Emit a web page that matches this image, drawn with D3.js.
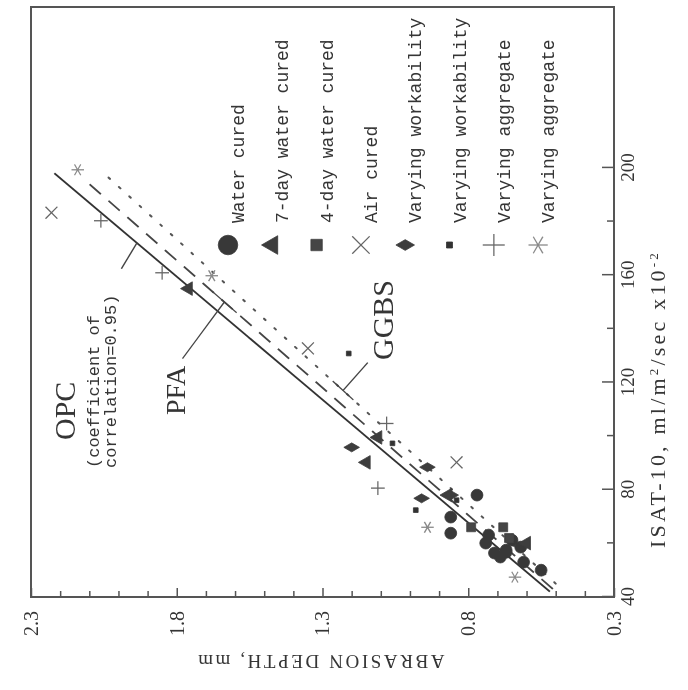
<!DOCTYPE html>
<html>
<head>
<meta charset="utf-8">
<script src="https://cdn.jsdelivr.net/npm/d3@7"></script>
<style>
  body { margin: 0; background: #fff; }
  svg { display: block; }
</style>
</head>
<body>
<script>
// abrasion depth vs ISAT-10, scanned figure is turned 90 deg, so the whole plot group is rotated

const isatTicks = [40, 80, 120, 160, 200];
const depthTicks = [0.3, 0.8, 1.3, 1.8, 2.3];

// [ISAT-10, abrasion depth]
const waterCured = [[78.0, 0.77], [63.8, 0.86], [69.8, 0.86], [50.0, 0.55], [56.4, 0.71],
  [56.7, 0.67], [53.0, 0.61], [61.2, 0.65], [63.1, 0.73], [54.9, 0.69], [60.1, 0.74],
  [57.5, 0.67], [58.6, 0.62]];
const sevenDay = [[99.5, 1.11], [90.2, 1.15], [155.0, 1.76], [60.1, 0.60], [78.0, 0.87]];
const fourDay = [[66.0, 0.79], [66.0, 0.68], [62.0, 0.66]];
const airCured = [[183.3, 2.23], [132.7, 1.35], [90.2, 0.84]];
const workabilityDiamond = [[95.8, 1.20], [88.4, 0.94], [76.8, 0.96], [78.0, 0.86]];
const workabilitySquare = [[130.8, 1.21], [72.4, 0.98], [76.1, 0.84], [97.3, 1.06]];
const aggregatePlus = [[80.6, 1.11], [104.7, 1.08], [180.3, 2.06], [160.9, 1.85]];
const aggregateStar = [[66.0, 0.94], [47.4, 0.64], [199.3, 2.14], [159.8, 1.68]];

// regression lines
const opcLine = [[42, 0.52], [198, 2.22]];
const pfaLine = [[43, 0.51], [194, 2.10]];
const ggbsLine = [[45, 0.50], [197, 2.04]];

const legendNames = ["Water cured", "7-day water cured", "4-day water cured", "Air cured",
  "Varying workability", "Varying workability", "Varying aggregate", "Varying aggregate"];

const width = 688;
const height = 690;
const W = 590;   // ISAT axis length
const H = 583;   // depth axis length
const ink = '#353535';
const serif = '"Liberation Serif", "Times New Roman", serif';
const mono = '"Liberation Mono", "Courier New", monospace';

const svg = d3.select('body').append('svg')
  .attr('width', width)
  .attr('height', height);

svg.append('defs').append('filter')
    .attr('id', 'scan')
  .append('feGaussianBlur')
    .attr('stdDeviation', 0.45);

const g = svg.append('g')
  .attr('transform', 'translate(31,597) rotate(-90)')
  .attr('filter', 'url(#scan)');

const x = d3.scaleLinear().domain([40, 260]).range([0, W]);
const y = d3.scaleLinear().domain([0.3, 2.3]).range([H, 0]);

// frame
g.append('rect')
  .attr('width', W)
  .attr('height', H)
  .attr('fill', 'none')
  .attr('stroke', '#555')
  .attr('stroke-width', 2);

// ISAT axis
const xAxis = d3.axisBottom(x)
  .tickValues(d3.range(40, 201, 20))
  .tickSizeInner(-12)
  .tickSizeOuter(0)
  .tickPadding(7)
  .tickFormat((d) => isatTicks.includes(d) ? d : '');
const gxAxis = g.append('g').attr('transform', `translate(0,${H})`).call(xAxis);
gxAxis.select('.domain').remove();
gxAxis.selectAll('.tick line')
  .attr('y2', (d) => isatTicks.includes(d) ? -12 : -7)
  .attr('stroke', '#555')
  .attr('stroke-width', 1.5);
gxAxis.selectAll('.tick text')
  .attr('font-family', serif)
  .attr('font-size', 19)
  .attr('fill', ink);

// depth axis
const isMajor = (d) => depthTicks.some((t) => Math.abs(t - d) < 1e-6);
const yAxis = d3.axisLeft(y)
  .tickValues(d3.range(3, 24).map((d) => d / 10))
  .tickSizeInner(-6)
  .tickSizeOuter(0)
  .tickPadding(14)
  .tickFormat((d) => isMajor(d) ? d3.format('.1f')(d) : '');
const gyAxis = g.append('g').call(yAxis);
gyAxis.select('.domain').remove();
gyAxis.selectAll('.tick line')
  .attr('x2', (d) => isMajor(d) ? 9 : 6)
  .attr('stroke', '#555')
  .attr('stroke-width', 1.5);
gyAxis.selectAll('.tick text')
  .attr('font-family', serif)
  .attr('font-size', 20)
  .attr('fill', ink);

// axis titles
const isatTitle = g.append('text')
  .attr('x', 198)
  .attr('y', H + 51)
  .attr('text-anchor', 'middle')
  .attr('font-family', serif)
  .attr('font-size', 22)
  .attr('letter-spacing', 3.2)
  .attr('fill', ink);
isatTitle.append('tspan').text('ISAT-10,  ml/m');
isatTitle.append('tspan').attr('font-size', 13).attr('baseline-shift', 'super').text('2');
isatTitle.append('tspan').text('/sec x10');
isatTitle.append('tspan').attr('font-size', 13).attr('baseline-shift', 'super').text('-2');

g.append('text')
  .attr('transform', `translate(-58,289) rotate(-90)`)
  .attr('text-anchor', 'middle')
  .attr('font-family', serif)
  .attr('font-size', 19)
  .attr('letter-spacing', 2.6)
  .attr('fill', ink)
  .text('ABRASION DEPTH, mm');

// regression lines
const line = d3.line().x((d) => x(d[0])).y((d) => y(d[1]));
g.append('path').datum(opcLine)
  .attr('d', line).attr('fill', 'none')
  .attr('stroke', '#333').attr('stroke-width', 1.8);
g.append('path').datum(pfaLine)
  .attr('d', line).attr('fill', 'none')
  .attr('stroke', '#444').attr('stroke-width', 1.8)
  .attr('stroke-dasharray', '15,10');
g.append('path').datum(ggbsLine)
  .attr('d', line).attr('fill', 'none')
  .attr('stroke', '#555').attr('stroke-width', 2)
  .attr('stroke-linecap', 'round')
  .attr('stroke-dasharray', '2,12');

function onLine(l, isat) {
  const t = (isat - l[0][0]) / (l[1][0] - l[0][0]);
  return [isat, l[0][1] + t * (l[1][1] - l[0][1])];
}

// annotations and leaders
const leader = (pts) => g.append('path').datum(pts)
  .attr('d', line).attr('fill', 'none')
  .attr('stroke', '#444').attr('stroke-width', 1.3);

leader([[162.4, 1.99], onLine(opcLine, 172)]);
leader([[128.9, 1.78], onLine(pfaLine, 150)]);
leader([onLine(pfaLine, 146), onLine(pfaLine, 154)]);
leader([[127.4, 1.145], onLine(ggbsLine, 117)]);
leader([onLine(ggbsLine, 113.5), onLine(ggbsLine, 120.5)]);

const note = (txt, gx, gy, size, family) => g.append('text')
  .attr('x', gx).attr('y', gy)
  .attr('font-family', family)
  .attr('font-size', size)
  .attr('fill', ink)
  .text(txt);

note('OPC', 157, 44, 30, serif);
note('(coefficient of', 129, 68, 17, mono);
note('correlation=0.95)', 129, 85, 17, mono);
note('PFA', 182, 154, 28, serif);
note('GGBS', 237, 362, 30, serif);

// series
const series = [
  { data: waterCured, type: d3.symbolCircle, size: 110, legend: 300, stroke: false, color: '#383838' },
  { data: sevenDay, type: d3.symbolTriangle, size: 80, legend: 150, stroke: false, color: '#3c3c3c' },
  { data: fourDay, type: d3.symbolSquare, size: 80, legend: 130, stroke: false, color: '#444' },
  { data: airCured, type: d3.symbolX, size: 95, legend: 200, stroke: true, color: '#666' },
  { data: workabilityDiamond, type: d3.symbolDiamond, size: 70, legend: 100, stroke: false, color: '#3c3c3c' },
  { data: workabilitySquare, type: d3.symbolSquare, size: 22, legend: 36, stroke: false, color: '#333' },
  { data: aggregatePlus, type: d3.symbolPlus, size: 64, legend: 160, stroke: true, color: '#666' },
  { data: aggregateStar, type: d3.symbolAsterisk, size: 110, legend: 260, stroke: true, color: '#8a8a8a' }
];

function styleMark(sel, s) {
  if (s.stroke) {
    sel.attr('fill', 'none').attr('stroke', s.color).attr('stroke-width', 1.3);
  } else {
    sel.attr('fill', s.color).attr('stroke', s.color).attr('stroke-width', 0.8);
  }
}

series.forEach((s) => {
  const marks = g.append('g').selectAll('path')
    .data(s.data)
    .enter().append('path')
    .attr('transform', (d) => `translate(${x(d[0])},${y(d[1])})`)
    .attr('d', d3.symbol().type(s.type).size(s.size));
  styleMark(marks, s);
});

// legend
const legend = g.append('g');
series.forEach((s, i) => {
  const gy = 197 + i * 44.3;
  const mk = legend.append('path')
    .attr('transform', `translate(352,${gy})`)
    .attr('d', d3.symbol().type(s.type).size(s.legend));
  styleMark(mk, s);
  legend.append('text')
    .attr('x', 374)
    .attr('y', gy + 16)
    .attr('font-family', mono)
    .attr('font-size', 18)
    .attr('fill', ink)
    .text(legendNames[i]);
});
</script>
</body>
</html>
